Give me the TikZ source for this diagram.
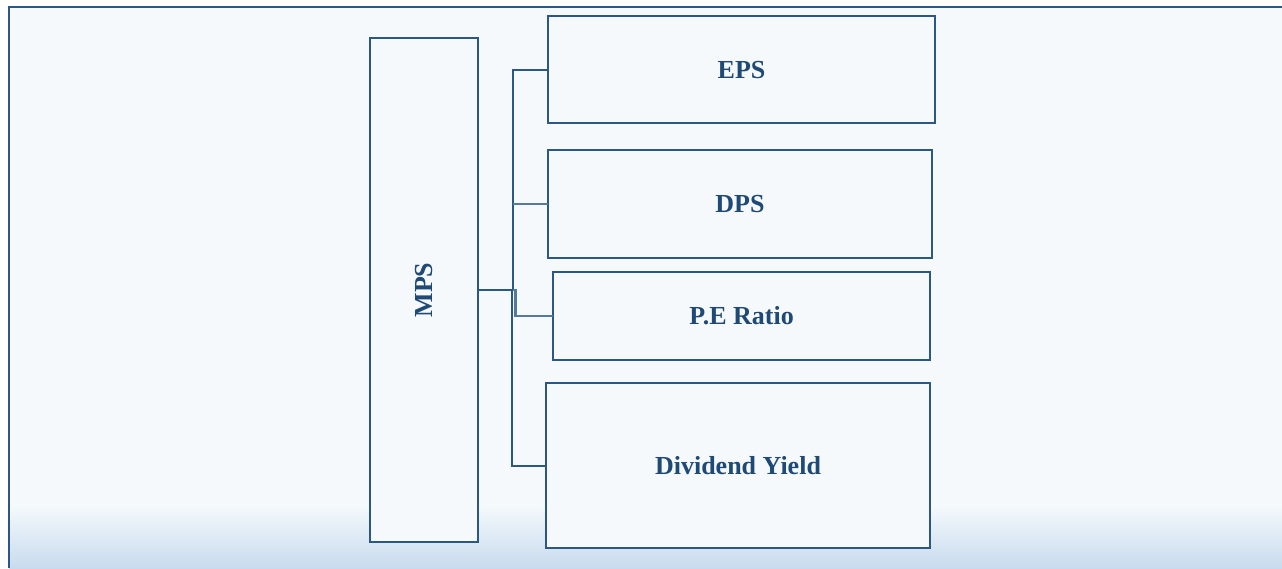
\documentclass[tikz,border=0pt]{standalone}
\usepackage{fontspec}
\setmainfont{Liberation Serif}
\begin{document}
\begin{tikzpicture}[x=1pt,y=-1pt,
  line/.style={draw=linec,line width=2.4pt},
  box/.style={draw=linec,line width=2.4pt,fill=bgc},
  lbl/.style={text=textc,font=\fontsize{26}{29}\selectfont\bfseries}]
\definecolor{linec}{HTML}{2A5783}
\definecolor{textc}{HTML}{1F4A75}
\definecolor{bgc}{HTML}{F5F9FC}
\definecolor{bgb}{HTML}{C8DBEE}
\useasboundingbox (0,0) rectangle (1282,568);
\fill[white] (0,0) rectangle (1282,568);
\fill[bgc] (9,7) rectangle (1282,568);
\shade[top color=bgc,bottom color=bgb] (9,505) rectangle (1282,568);
\draw[linec,line width=1.8pt] (1282,7) -- (9,7) -- (9,568);
% boxes
\draw[box] (370,38) rectangle (478,542);
\coordinate (mpsR) at (478,290);
\node[lbl,rotate=90] (mps) at (424,290) {MPS};
\draw[box] (548,16) rectangle (935,123);
\node[lbl] (eps) at (741.5,70) {EPS};
\draw[box] (548,150) rectangle (932,258);
\node[lbl] (dps) at (740,204) {DPS};
\draw[box] (553,272) rectangle (930,360);
\node[lbl] (pe) at (741.5,316) {P.E Ratio};
\draw[box] (546,383) rectangle (930,548);
\node[lbl] (dy) at (738,466) {Dividend Yield};
\coordinate (epsL) at (548,70);
\coordinate (dpsL) at (548,204);
\coordinate (peL) at (553,316);
\coordinate (dyL) at (546,466);
% connectors
\draw[line] (mpsR) -- (513,290) -- (513,70) -- (epsL);
\draw[line,draw=linec!80] (513,204) -- (dpsL);
\draw[line,draw=linec!80] (513,290) -- (515.5,290) -- (515.5,316) -- (peL);
\draw[line] (513,290) -- (512,290) -- (512,466) -- (dyL);
\end{tikzpicture}
\end{document}
